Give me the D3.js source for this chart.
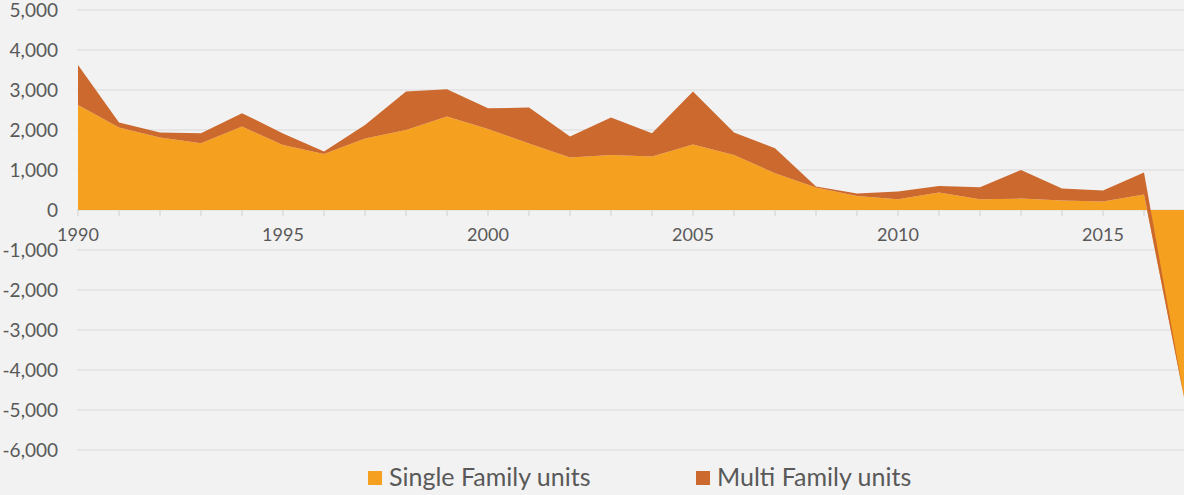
<!DOCTYPE html>
<html>
<head>
<meta charset="utf-8">
<script src="https://cdnjs.cloudflare.com/ajax/libs/d3/7.8.5/d3.min.js"></script>
<style>
    html, body { margin: 0; padding: 0; background: #f2f2f2; }
    svg { display: block; font-family: Lato, 'Noto Sans', sans-serif; }
</style>
</head>
<body>
<div id="chart"></div>
<script>
/* ---------------------------------- Data ---------------------------------- */
const years = [1990, 1991, 1992, 1993, 1994, 1995, 1996, 1997, 1998, 1999,
    2000, 2001, 2002, 2003, 2004, 2005, 2006, 2007, 2008, 2009,
    2010, 2011, 2012, 2013, 2014, 2015, 2016, 2017];
const singleFamily = [2625, 2060, 1810, 1670, 2085, 1625, 1400, 1790, 2000, 2335,
    2025, 1665, 1310, 1375, 1335, 1640, 1375, 920, 560, 350,
    270, 435, 270, 285, 235, 210, 390, -4800];
const multiFamily = [1000, 125, 125, 250, 335, 290, 60, 335, 960, 685,
    520, 895, 525, 935, 585, 1320, 560, 625, 25, 65,
    190, 165, 300, 715, 300, 275, 545, 0];
const yTicks = [5000, 4000, 3000, 2000, 1000, 0, -1000, -2000, -3000, -4000, -5000, -6000];
const xLabels = [1990, 1995, 2000, 2005, 2010, 2015];
const seriesNames = ['Single Family units', 'Multi Family units'];
const colours = ['#f5a01f', '#cc692e'];

/* --------------------------------- Layout --------------------------------- */
const width = 1184, height = 495;

const svg = d3.select('#chart')
    .append('svg')
    .attr('width', width)
    .attr('height', height);

svg.append('rect')
    .attr('width', width)
    .attr('height', height)
    .attr('fill', '#f2f2f2');

const x = d3.scaleLinear().domain([1990, 2017]).range([78, 1185]);
const y = d3.scaleLinear().domain([-6000, 5000]).range([450, 10]);

// gridlines
svg.append('g')
    .selectAll('line')
    .data(yTicks)
    .enter()
    .append('line')
    .attr('x1', 77)
    .attr('x2', width)
    .attr('y1', d => y(d))
    .attr('y2', d => y(d))
    .attr('stroke', '#d9d9d9')
    .attr('stroke-width', 1);

/* ---------------------------- Stacked areas ---------------------------- */
const rows = years.map((yr, i) => ({ year: yr, single: singleFamily[i], multi: multiFamily[i] }));

const stack = d3.stack()
    .keys(['single', 'multi'])
    .offset(d3.stackOffsetNone);

const layers = stack(rows);

const area = d3.area()
    .x(d => x(d.data.year))
    .y0(d => y(d[0]))
    .y1(d => y(d[1]));

svg.append('g')
    .selectAll('path')
    .data(layers)
    .enter()
    .append('path')
    .attr('d', area)
    .attr('fill', (d, i) => colours[i]);

/* ---------------------------------- Axes ---------------------------------- */
// small tick marks under the zero line, one per year
svg.append('g')
    .selectAll('line')
    .data(years)
    .enter()
    .append('line')
    .attr('x1', d => x(d))
    .attr('x2', d => x(d))
    .attr('y1', y(0))
    .attr('y2', y(0) + 6)
    .attr('stroke', '#d0d0d0')
    .attr('stroke-width', 1);

svg.append('g')
    .selectAll('text')
    .data(yTicks)
    .enter()
    .append('text')
    .attr('x', 58)
    .attr('y', d => y(d))
    .attr('dy', '0.36em')
    .attr('text-anchor', 'end')
    .attr('font-size', 19)
    .attr('fill', '#595959')
    .text(d => d3.format(',')(d).replace('−', '-'));

svg.append('g')
    .selectAll('text')
    .data(xLabels)
    .enter()
    .append('text')
    .attr('x', d => x(d))
    .attr('y', 241)
    .attr('text-anchor', 'middle')
    .attr('font-size', 18)
    .attr('fill', '#595959')
    .text(d => d);

/* --------------------------------- Legend --------------------------------- */
const legendX = [368, 696];

const legend = svg.append('g')
    .selectAll('g')
    .data(seriesNames)
    .enter()
    .append('g')
    .attr('transform', (d, i) => `translate(${legendX[i]},0)`);

legend.append('rect')
    .attr('x', 0)
    .attr('y', 471)
    .attr('width', 14)
    .attr('height', 14)
    .attr('fill', (d, i) => colours[i]);

legend.append('text')
    .attr('x', 21)
    .attr('y', 486)
    .attr('font-size', 25)
    .attr('fill', '#595959')
    .text(d => d);
</script>
</body>
</html>
